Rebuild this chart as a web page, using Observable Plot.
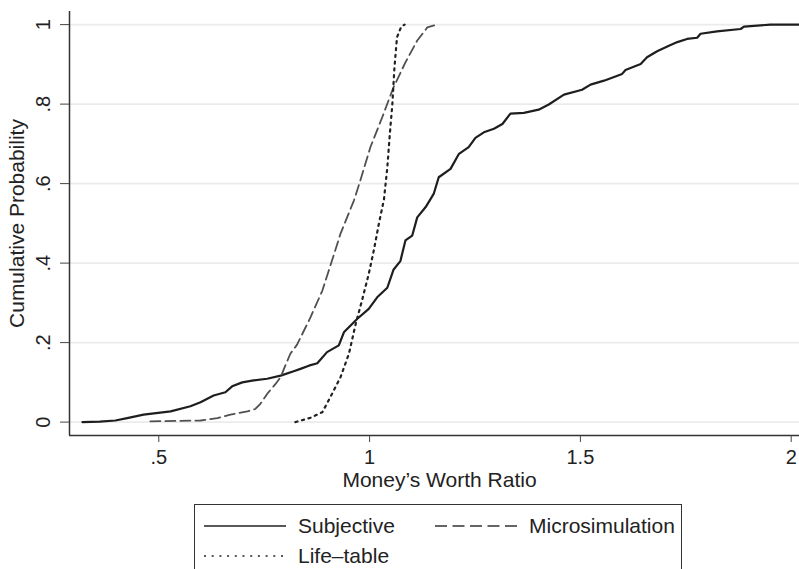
<!DOCTYPE html>
<html>
<head>
<meta charset="utf-8">
<script src="https://cdn.jsdelivr.net/npm/d3@7"></script>
<script src="https://cdn.jsdelivr.net/npm/@observablehq/plot@0.6"></script>
<style>
  html, body { margin: 0; padding: 0; background: #fff; }
  #wrap { position: relative; width: 799px; height: 569px; overflow: hidden; font-family: "Liberation Sans", Arial, Helvetica, sans-serif; color: #222; }
  #legend { position: absolute; left: 194px; top: 504px; width: 488px; height: 110px; border: 1.3px solid #333; box-sizing: border-box; }
  .item { position: absolute; height: 30px; display: flex; align-items: center; font-size: 21px; white-space: nowrap; }
  .item svg { margin-right: 12px; }
</style>
</head>
<body>
<div id="wrap"><div id="chart"></div><div id="legend"></div></div>
<script>
// ---- data ----
const seriesNames = ["Subjective", "Microsimulation", "Life–table"];

const subjX = [0.319,0.360,0.397,0.425,0.464,0.528,0.575,0.599,0.630,0.658,0.674,0.698,0.725,0.757,0.789,0.820,0.836,0.856,0.876,0.899,0.927,0.939,0.971,0.998,1.018,1.042,1.057,1.073,1.085,1.101,1.113,1.133,1.152,1.164,1.192,1.212,1.235,1.251,1.271,1.295,1.315,1.334,1.366,1.401,1.425,1.461,1.504,1.524,1.556,1.599,1.607,1.643,1.658,1.682,1.710,1.730,1.753,1.777,1.785,1.824,1.880,1.888,1.951,2.020];
const subjY = [0.000,0.001,0.004,0.010,0.019,0.027,0.040,0.050,0.067,0.075,0.090,0.100,0.105,0.109,0.117,0.128,0.134,0.142,0.148,0.176,0.193,0.226,0.260,0.285,0.314,0.338,0.384,0.405,0.457,0.469,0.515,0.541,0.574,0.616,0.637,0.675,0.692,0.715,0.729,0.738,0.750,0.776,0.778,0.786,0.799,0.824,0.836,0.849,0.859,0.876,0.886,0.901,0.918,0.933,0.947,0.956,0.964,0.967,0.977,0.983,0.989,0.995,1.000,1.000];

const microX = [0.480,0.599,0.639,0.670,0.710,0.729,0.741,0.757,0.777,0.789,0.800,0.812,0.828,0.860,0.888,0.911,0.931,0.963,0.978,1.002,1.030,1.057,1.085,1.113,1.137,1.160];
const microY = [0.002,0.004,0.010,0.019,0.027,0.033,0.046,0.071,0.096,0.113,0.142,0.172,0.195,0.264,0.331,0.407,0.474,0.558,0.608,0.692,0.767,0.843,0.905,0.960,0.993,1.000];

const lifeX = [0.824,0.860,0.888,0.907,0.931,0.951,0.967,0.982,0.998,1.010,1.022,1.034,1.042,1.048,1.054,1.059,1.065,1.075,1.083];
const lifeY = [0.000,0.011,0.025,0.063,0.113,0.172,0.247,0.306,0.373,0.432,0.499,0.560,0.640,0.725,0.800,0.893,0.968,0.995,1.000];

const xTicks = [0.5, 1, 1.5, 2];
const yTicks = [0, 0.2, 0.4, 0.6, 0.8, 1];
const xTitle = "Money’s Worth Ratio";
const yTitle = "Cumulative Probability";

// ---- build ----
const toRows = (xs, ys, s) => xs.map((x, i) => ({x, y: ys[i], series: s}));
const rows = [
  ...toRows(subjX, subjY, seriesNames[0]),
  ...toRows(microX, microY, seriesNames[1]),
  ...toRows(lifeX, lifeY, seriesNames[2])
];
const styles = {
  "Subjective": {stroke: "#1e1e1e", strokeWidth: 2.2, dash: null},
  "Microsimulation": {stroke: "#505050", strokeWidth: 1.8, dash: "10,5"},
  "Life–table": {stroke: "#222", strokeWidth: 2.2, dash: "2.2,4.6"}
};
const fmt = d => d === 0 ? "0" : String(d).replace(/^0\./, ".");
const xDomain = [0.2882, 2.0197];
const yDomain = [-0.0337, 1.033];

const lineMarks = seriesNames.map(s => Plot.line(rows.filter(r => r.series === s), {
  x: "x", y: "y", stroke: styles[s].stroke, strokeWidth: styles[s].strokeWidth,
  strokeDasharray: styles[s].dash || undefined, strokeLinejoin: "round"
}));

const chart = Plot.plot({
  width: 799, height: 500,
  marginLeft: 69, marginRight: 0, marginTop: 11, marginBottom: 65,
  x: {domain: xDomain},
  y: {domain: yDomain},
  style: {fontFamily: "'Liberation Sans', Arial, Helvetica, sans-serif", color: "#222", background: "white", overflow: "visible"},
  marks: [
    Plot.gridY(yTicks, {stroke: "#ebebeb", strokeOpacity: 1, strokeWidth: 1.6}),
    ...lineMarks,
    Plot.ruleX([xDomain[0]], {stroke: "#333", strokeWidth: 1.5}),
    Plot.ruleY([yDomain[0]], {stroke: "#333", strokeWidth: 1.5}),
    Plot.axisX(xTicks, {tickSize: 7, tickPadding: 7, tickFormat: fmt, fontSize: 20, label: null, stroke: "#444"}),
    Plot.axisY(yTicks, {tickSize: 9, tickFormat: () => "", label: null, stroke: "#444"}),
    Plot.text(yTicks, {y: d => d, frameAnchor: "left", dx: -25.5, rotate: -90, text: fmt, fontSize: 20, textAnchor: "middle", lineAnchor: "middle", fill: "#222"}),
    Plot.text([yTitle], {frameAnchor: "left", dx: -52.5, rotate: -90, fontSize: 21, textAnchor: "middle", lineAnchor: "middle", fill: "#222"}),
    Plot.text([xTitle], {frameAnchor: "bottom", dx: 5, dy: 45, fontSize: 21, textAnchor: "middle", lineAnchor: "middle", fill: "#222"})
  ]
});
document.getElementById("chart").append(chart);

// ---- legend ----
const legend = d3.select("#legend");
const legendPos = [[9, 6], [240, 6], [9, 36]];
seriesNames.forEach((s, i) => {
  const it = legend.append("div").attr("class", "item")
    .style("left", legendPos[i][0] + "px").style("top", legendPos[i][1] + "px");
  const sv = it.append("svg").attr("width", 82).attr("height", 10);
  sv.append("line").attr("x1", 0).attr("x2", 82).attr("y1", 5).attr("y2", 5)
    .attr("stroke", i === 1 ? "#333" : "#222").attr("stroke-width", i === 0 ? 1.6 : 1.5)
    .attr("stroke-dasharray", i === 1 ? "12,5.5" : i === 2 ? "2,5.7" : null);
  it.append("span").text(s);
});
</script>
</body>
</html>
